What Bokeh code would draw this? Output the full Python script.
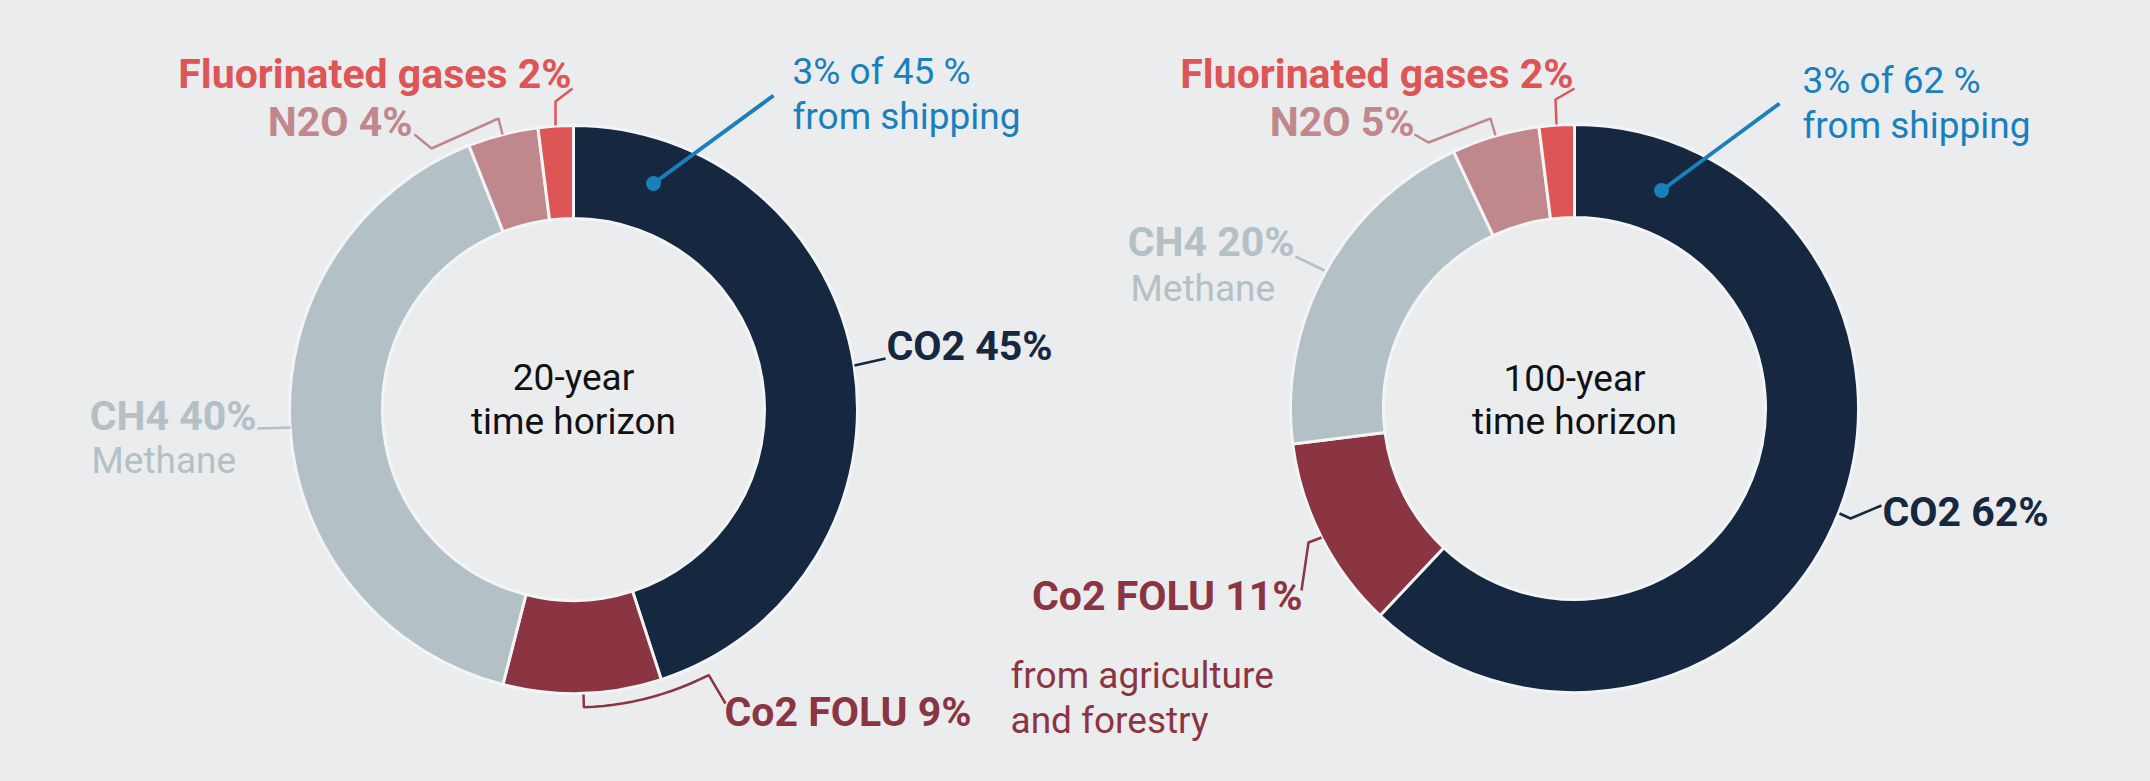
import numpy as np
from bokeh.plotting import figure
from bokeh.models import Range1d
from bokeh.core.properties import value
from bokeh.embed import file_html
from bokeh.resources import INLINE

# ---------------- data ----------------
categories = ["CO2", "Co2 FOLU", "CH4", "N2O", "Fluorinated gases"]
share_20yr = [45, 9, 40, 4, 2]
share_100yr = [62, 11, 20, 5, 2]
shipping_share = 3
center_20 = ["20-year", "time horizon"]
center_100 = ["100-year", "time horizon"]
methane_note = "Methane"
folu_note = ["from agriculture", "and forestry"]

# ---------------- styles ----------------
colors = ["#15283f", "#8b3543", "#b3c0c5", "#c0888c", "#de5556"]
BLUE = "#1a80bb"
BG = "#ebecee"
FONT = value("Roboto")
BOLD_SIZE = value("41px")
NORM_SIZE = value("37px")
TEXT_DY = 12  # raise text so its baseline sits where intended

W, H = 2134, 765


def fx(x):
    return x


def fy(y):
    return H - y


p = figure(width=W, height=H, output_backend="svg", toolbar_location=None,
           x_range=Range1d(0, W), y_range=Range1d(0, H),
           x_axis_type=None, y_axis_type=None, min_border=0)
p.background_fill_color = BG
p.border_fill_color = BG
p.outline_line_color = None
p.grid.visible = False

R_OUT, R_IN = 284, 191


def donut(cx, cy, shares):
    s = np.array(shares, dtype=float)
    cum = np.concatenate([[0], np.cumsum(s)]) / s.sum()
    start = np.pi / 2 - 2 * np.pi * cum[:-1]
    end = np.pi / 2 - 2 * np.pi * cum[1:]
    p.annular_wedge(x=fx(cx), y=fy(cy), inner_radius=R_IN, outer_radius=R_OUT,
                    start_angle=start, end_angle=end, direction="clock",
                    fill_color=colors, line_color="#f3f4f5", line_width=3)


def label(x, y, txt, color, bold=True, align="left"):
    p.text(x=[fx(x)], y=[fy(y - TEXT_DY)], text=[txt], text_color=color,
           text_font=FONT,
           text_font_size=BOLD_SIZE if bold else NORM_SIZE,
           text_font_style="bold" if bold else "normal",
           text_align=align, text_baseline="alphabetic")


def leader(pts, color, width=2.5):
    xs = [fx(a) for a, b in pts]
    ys = [fy(b) for a, b in pts]
    p.line(xs, ys, line_color=color, line_width=width)


def polar(cx, cy, r, deg):
    t = np.radians(deg)
    return (cx + r * np.sin(t), cy - r * np.cos(t))


# ---------------- left donut (20-year) ----------------
cxL, cyL = 573, 409
donut(cxL, cyL, share_20yr)
label(cxL, 389, center_20[0], "#111111", bold=False, align="center")
label(cxL, 433, center_20[1], "#111111", bold=False, align="center")

label(571, 85, f"{categories[4]} {share_20yr[4]}%", colors[4], align="right")
leader([(555, 125), (555, 101), (572, 88)], colors[4])

label(412, 133, f"{categories[3]} {share_20yr[3]}%", colors[3], align="right")
leader([(414, 134), (431, 148), (498, 118), (502, 134)], colors[3])

label(792, 83, f"{shipping_share}% of {share_20yr[0]} %", BLUE, bold=False)
label(792, 128, "from shipping", BLUE, bold=False)
leader([(773, 95), (653, 183)], BLUE, width=4)
p.scatter([fx(653)], [fy(183)], size=15, fill_color=BLUE, line_color=None)

label(886, 357, f"{categories[0]} {share_20yr[0]}%", colors[0])
leader([(854, 365), (885, 358)], colors[0])

label(256, 427, f"{categories[2]} {share_20yr[2]}%", colors[2], align="right")
label(91, 472, methane_note, colors[2], bold=False)
leader([(290, 427), (257, 428)], colors[2])

label(724, 723, f"{categories[1]} {share_20yr[1]}%", colors[1])
arc = [polar(cxL, cyL, 298, d) for d in np.linspace(178, 153, 14)]
leader([(583, 694)] + arc + [(725, 703)], colors[1])
label(1010, 687, folu_note[0], colors[1], bold=False)
label(1010, 732, folu_note[1], colors[1], bold=False)

# ---------------- right donut (100-year) ----------------
cxR, cyR = 1574, 408
donut(cxR, cyR, share_100yr)
label(cxR, 390, center_100[0], "#111111", bold=False, align="center")
label(cxR, 433, center_100[1], "#111111", bold=False, align="center")

label(1573, 85, f"{categories[4]} {share_100yr[4]}%", colors[4], align="right")
leader([(1556, 124), (1555, 99), (1574, 88)], colors[4])

label(1414, 133, f"{categories[3]} {share_100yr[3]}%", colors[3], align="right")
leader([(1414, 134), (1428, 142), (1490, 118), (1495, 135)], colors[3])

label(1802, 92, f"{shipping_share}% of {share_100yr[0]} %", BLUE, bold=False)
label(1802, 137, "from shipping", BLUE, bold=False)
leader([(1779, 103), (1661, 190)], BLUE, width=4)
p.scatter([fx(1661)], [fy(190)], size=15, fill_color=BLUE, line_color=None)

label(1294, 253, f"{categories[2]} {share_100yr[2]}%", colors[2], align="right")
label(1130, 300, methane_note, colors[2], bold=False)
leader([(1295, 256), (1324, 270)], colors[2])

label(1882, 523, f"{categories[0]} {share_100yr[0]}%", colors[0])
leader([(1839, 513), (1850, 518), (1881, 505)], colors[0])

label(1302, 607, f"{categories[1]} {share_100yr[1]}%", colors[1], align="right")
leader([(1321, 537), (1308, 542), (1301, 590)], colors[1])

html = file_html(p, INLINE)
html = html.replace("<body>", f'<body style="background-color:{BG};">')
open("out.html", "w").write(html)
